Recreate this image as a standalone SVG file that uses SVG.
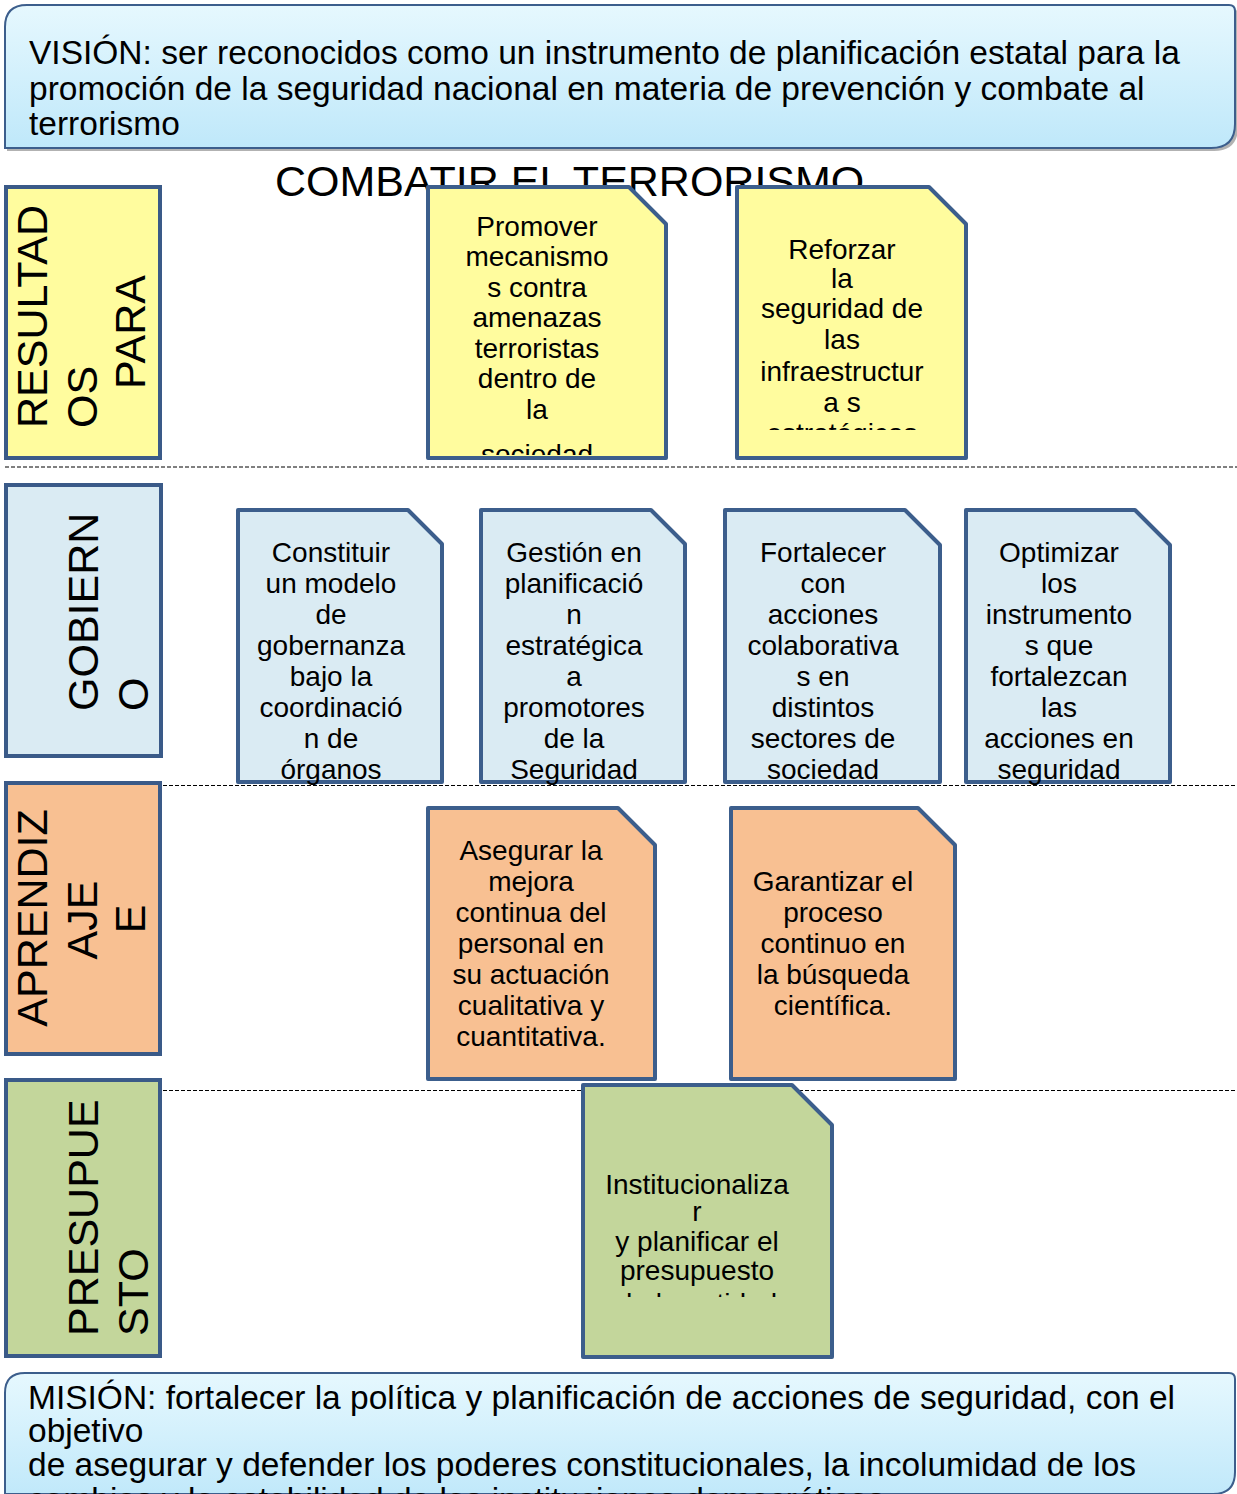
<svg xmlns="http://www.w3.org/2000/svg" width="1237" height="1494" viewBox="0 0 1237 1494">
<style>
text { font-family: "Liberation Sans", Arial, sans-serif; fill: #000; }
.big { font-size: 33.5px; }
.lbl { font-size: 43px; }
.nt { font-size: 28px; text-anchor: middle; }
.bx { stroke: #3c5e8c; stroke-width: 2; }
.nb { stroke: #3c5e8c; stroke-width: 4; stroke-linejoin: round; }
.hd { stroke: #3a5a88; stroke-width: 4; }
.y { fill: #fffc9e; }
.b { fill: #daebf3; }
.o { fill: #f8c092; }
.g { fill: #c3d69b; }
.dash { stroke: #000; stroke-width: 1; stroke-dasharray: 4 2; fill: none; }
</style>
<defs>
<linearGradient id="vg" x1="0" y1="0" x2="0" y2="1">
<stop offset="0" stop-color="#e6f8fe"/>
<stop offset="1" stop-color="#bfe8fa"/>
</linearGradient>
<clipPath id="c1"><rect x="428" y="187" width="238" height="268"/></clipPath>
<clipPath id="c2"><rect x="737" y="187" width="229" height="243"/></clipPath>
<clipPath id="c7"><rect x="583" y="1085" width="250" height="212"/></clipPath>
</defs>

<g id="vision">
<path d="M7,151 V29 Q7,8 28,8 H1231 Q1238,8 1238,15 V127 Q1238,151 1214,151 Z" fill="#555" opacity="0.45"/>
<path class="bx" d="M5,148 V27 Q5,5 27,5 H1229 Q1235,5 1235,11 V124 Q1235,148 1211,148 Z" fill="url(#vg)"/>
<text class="big" x="29" y="64">VISIÓN: ser reconocidos como un instrumento de planificación estatal para la</text>
<text class="big" x="29" y="100">promoción de la seguridad nacional en materia de prevención y combate al</text>
<text class="big" x="29" y="135">terrorismo</text>
</g>

<g id="title">
<text x="275" y="196" style="font-size:43px">COMBATIR EL TERRORISMO</text>
</g>

<g id="connectors">
<line class="dash" x1="5" y1="467" x2="1237" y2="467"/>
<line class="dash" x1="163" y1="785.5" x2="1237" y2="785.5"/>
<line class="dash" x1="163" y1="1090.5" x2="1237" y2="1090.5"/>
</g>

<g id="row-resultados">
<rect class="hd y" x="6" y="187" width="154" height="271"/>
<text class="lbl" transform="translate(47,428) rotate(-90)">RESULTAD</text>
<text class="lbl" transform="translate(97,428) rotate(-90)">OS</text>
<text class="lbl" transform="translate(145,389) rotate(-90)">PARA</text>
</g>

<g id="row-gobierno">
<rect class="hd b" x="6" y="485" width="155" height="271"/>
<text class="lbl" transform="translate(98,711) rotate(-90)">GOBIERN</text>
<text class="lbl" transform="translate(148,711) rotate(-90)">O</text>
</g>

<g id="row-aprendizaje">
<rect class="hd o" x="6" y="783" width="154" height="271"/>
<g style="text-anchor:middle">
<text class="lbl" transform="translate(47,918) rotate(-90)">APRENDIZ</text>
<text class="lbl" transform="translate(97,920) rotate(-90)">AJE</text>
<text class="lbl" transform="translate(145,919) rotate(-90)">E</text>
</g>
</g>

<g id="row-presupuesto">
<rect class="hd g" x="6" y="1080" width="154" height="276"/>
<text class="lbl" transform="translate(98,1336) rotate(-90)">PRESUPUE</text>
<text class="lbl" transform="translate(148,1336) rotate(-90)">STO</text>
</g>

<g id="note-promover">
<path class="nb y" d="M428,187 H629 L666,224 V458 H428 Z"/>
<g clip-path="url(#c1)">
<text class="nt" x="537" y="236">Promover</text>
<text class="nt" x="537" y="266">mecanismo</text>
<text class="nt" x="537" y="297">s contra</text>
<text class="nt" x="537" y="327">amenazas</text>
<text class="nt" x="537" y="358">terroristas</text>
<text class="nt" x="537" y="388">dentro de</text>
<text class="nt" x="537" y="419">la</text>
<text class="nt" x="537" y="464">sociedad</text>
</g>
</g>

<g id="note-reforzar">
<path class="nb y" d="M737,187 H929 L966,224 V458 H737 Z"/>
<g clip-path="url(#c2)">
<text class="nt" x="842" y="259">Reforzar</text>
<text class="nt" x="842" y="288">la</text>
<text class="nt" x="842" y="318">seguridad de</text>
<text class="nt" x="842" y="349">las</text>
<text class="nt" x="842" y="381">infraestructur</text>
<text class="nt" x="842" y="412">a s</text>
<text class="nt" x="842" y="443">estratégicas</text>
</g>
</g>

<g id="note-constituir">
<path class="nb b" d="M238,510 H408 L442,544 V782 H238 Z"/>
<text class="nt" x="331" y="562">Constituir</text>
<text class="nt" x="331" y="593">un modelo</text>
<text class="nt" x="331" y="624">de</text>
<text class="nt" x="331" y="655">gobernanza</text>
<text class="nt" x="331" y="686">bajo la</text>
<text class="nt" x="331" y="717">coordinació</text>
<text class="nt" x="331" y="748">n de</text>
<text class="nt" x="331" y="779">órganos</text>
</g>

<g id="note-gestion">
<path class="nb b" d="M481,510 H651 L685,544 V782 H481 Z"/>
<text class="nt" x="574" y="562">Gestión en</text>
<text class="nt" x="574" y="593">planificació</text>
<text class="nt" x="574" y="624">n</text>
<text class="nt" x="574" y="655">estratégica</text>
<text class="nt" x="574" y="686">a</text>
<text class="nt" x="574" y="717">promotores</text>
<text class="nt" x="574" y="748">de la</text>
<text class="nt" x="574" y="779">Seguridad</text>
</g>

<g id="note-fortalecer">
<path class="nb b" d="M725,510 H905 L940,545 V782 H725 Z"/>
<text class="nt" x="823" y="562">Fortalecer</text>
<text class="nt" x="823" y="593">con</text>
<text class="nt" x="823" y="624">acciones</text>
<text class="nt" x="823" y="655">colaborativa</text>
<text class="nt" x="823" y="686">s en</text>
<text class="nt" x="823" y="717">distintos</text>
<text class="nt" x="823" y="748">sectores de</text>
<text class="nt" x="823" y="779">sociedad</text>
</g>

<g id="note-optimizar">
<path class="nb b" d="M966,510 H1135 L1170,545 V782 H966 Z"/>
<text class="nt" x="1059" y="562">Optimizar</text>
<text class="nt" x="1059" y="593">los</text>
<text class="nt" x="1059" y="624">instrumento</text>
<text class="nt" x="1059" y="655">s que</text>
<text class="nt" x="1059" y="686">fortalezcan</text>
<text class="nt" x="1059" y="717">las</text>
<text class="nt" x="1059" y="748">acciones en</text>
<text class="nt" x="1059" y="779">seguridad</text>
</g>

<g id="note-asegurar">
<path class="nb o" d="M428,808 H618 L655,845 V1079 H428 Z"/>
<text class="nt" x="531" y="860">Asegurar la</text>
<text class="nt" x="531" y="891">mejora</text>
<text class="nt" x="531" y="922">continua del</text>
<text class="nt" x="531" y="953">personal en</text>
<text class="nt" x="531" y="984">su actuación</text>
<text class="nt" x="531" y="1015">cualitativa y</text>
<text class="nt" x="531" y="1046">cuantitativa.</text>
</g>

<g id="note-garantizar">
<path class="nb o" d="M731,808 H918 L955,845 V1079 H731 Z"/>
<text class="nt" x="833" y="891">Garantizar el</text>
<text class="nt" x="833" y="922">proceso</text>
<text class="nt" x="833" y="953">continuo en</text>
<text class="nt" x="833" y="984">la búsqueda</text>
<text class="nt" x="833" y="1015">científica.</text>
</g>

<g id="note-institucionalizar">
<path class="nb g" d="M583,1085 H792 L832,1125 V1357 H583 Z"/>
<g clip-path="url(#c7)">
<text class="nt" x="697" y="1194">Institucionaliza</text>
<text class="nt" x="697" y="1221">r</text>
<text class="nt" x="697" y="1251">y planificar el</text>
<text class="nt" x="697" y="1280">presupuesto</text>
<text class="nt" x="697" y="1313">de la entidad</text>
</g>
</g>

<g id="mision">
<path class="bx" d="M5,1500 V1393 Q5,1373 25,1373 H1229 Q1235,1373 1235,1379 V1472 Q1235,1494 1213,1494 H5" fill="url(#vg)"/>
<text class="big" x="28" y="1409">MISIÓN: fortalecer la política y planificación de acciones de seguridad, con el</text>
<text class="big" x="28" y="1442">objetivo</text>
<text class="big" x="28" y="1476">de asegurar y defender los poderes constitucionales, la incolumidad de los</text>
<text class="big" x="28" y="1511">cambios y la estabilidad de las instituciones democráticas</text>
</g>
</svg>
